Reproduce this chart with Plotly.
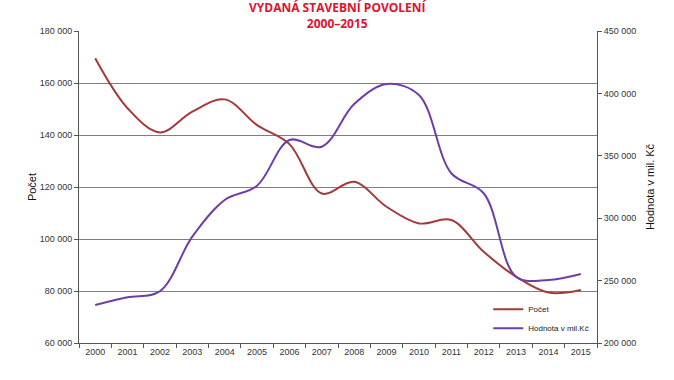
import plotly.graph_objects as go

years = [str(y) for y in range(2000, 2016)]
pocet = [169500, 150300, 141000, 149000, 153700, 143800, 136500, 117500,
         122000, 112400, 106000, 107300, 95100, 85500, 79400, 80400]
hodnota = [230400, 236600, 241500, 285200, 314600, 326000, 362700, 357300,
           391500, 407500, 398700, 336000, 320000, 253100, 250500, 255300]
left_ticks = [60000, 80000, 100000, 120000, 140000, 160000, 180000]
right_ticks = [200000, 250000, 300000, 350000, 400000, 450000]

red = "#a5383b"
purple = "#6e3ea6"
tickfont = dict(family="Liberation Sans, Arial", size=9, color="#333333")

fig = go.Figure()
fig.add_trace(go.Scatter(x=years, y=pocet, name="Počet", mode="lines",
                         line=dict(color=red, width=2, shape="spline", smoothing=1.0)))
fig.add_trace(go.Scatter(x=years, y=hodnota, name="Hodnota v mil.Kč", mode="lines",
                         yaxis="y2",
                         line=dict(color=purple, width=2, shape="spline", smoothing=1.0)))

fig.update_layout(
    width=674, height=380,
    margin=dict(l=79, r=77, t=31, b=37, autoexpand=False),
    paper_bgcolor="white", plot_bgcolor="white",
    separators=", ",
    showlegend=True,
    legend=dict(x=0.79, y=0.155, xanchor="left", yanchor="top",
                bgcolor="rgba(255,255,255,0)", borderwidth=0,
                font=dict(family="Liberation Sans, Arial", size=8, color="#222222"),
                itemwidth=30, tracegroupgap=0),
    xaxis=dict(type="category", range=[-0.5, 15.5], tickson="boundaries", ticks="outside", ticklen=4,
               tickcolor="#555555", showline=True, linecolor="#555555", linewidth=1,
               showgrid=False, tickfont=tickfont, mirror=False, automargin=False),
    yaxis=dict(range=[60000, 180000], tickvals=left_ticks, tickformat=",d",
               ticks="outside", ticklen=4, tickcolor="#555555",
               showline=True, linecolor="#555555", linewidth=1,
               showgrid=True, gridcolor="#7f7f7f", gridwidth=1,
               tickfont=tickfont, zeroline=False, automargin=False,
               title=dict(text="Počet", font=dict(family="Liberation Sans, Arial", size=11, color="#111111"),
                          standoff=0)),
    yaxis2=dict(range=[200000, 450000], tickvals=right_ticks, tickformat=",d",
                overlaying="y", side="right",
                ticks="outside", ticklen=4, tickcolor="#555555",
                showline=True, linecolor="#555555", linewidth=1,
                showgrid=False, tickfont=tickfont, zeroline=False, automargin=False,
                title=dict(text="Hodnota v mil. Kč", font=dict(family="Liberation Sans, Arial", size=11, color="#111111"),
                           standoff=10)),
)

fig.add_annotation(text="VYDANÁ STAVEBNÍ POVOLENÍ<br>2000–2015", xref="paper", yref="paper",
                   x=0.5, y=1.0, yshift=-3, xanchor="center", yanchor="bottom", showarrow=False,
                   font=dict(family="Open Sans, Liberation Sans", size=12, color="#e3102e", weight="bold"),
                   align="center")

fig.write_html("out.html", config={"displayModeBar": False},
               post_script="document.body.style.margin='0';document.body.style.overflow='hidden';")
